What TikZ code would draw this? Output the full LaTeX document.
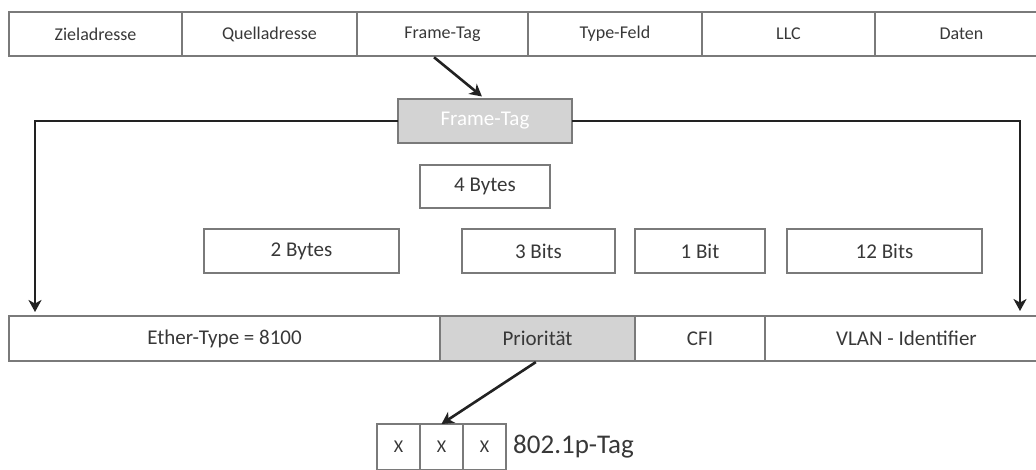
\documentclass[tikz,border=0pt]{standalone}
\usepackage{fontspec}
\setmainfont{Carlito}
\usepackage{xcolor}
\usetikzlibrary{positioning, arrows.meta}
\definecolor{rahmen}{HTML}{7A7A7A}
\definecolor{feldgrau}{HTML}{D3D3D3}
\definecolor{schrift}{HTML}{383838}
\definecolor{pfeil}{HTML}{222222}
\tikzset{
  field/.style={
    draw=rahmen, line width=1.6pt, rectangle,
    inner sep=0pt, outer sep=0pt,
    minimum height=44pt,
    text=schrift, font=\fontsize{21}{24}\selectfont
  },
  topfield/.style={field, font=\fontsize{18}{21}\selectfont},
  greyfield/.style={field, fill=feldgrau},
  bitbox/.style={field, minimum width=43pt, minimum height=46pt,
    font=\fontsize{18}{21}\selectfont},
  arr/.style={draw=pfeil, line width=2.6pt,
    -{Stealth[length=12pt, width=13pt, inset=3.5pt]}},
}

\begin{document}
\begin{tikzpicture}[x=1pt, y=-1pt]
\useasboundingbox (0,0) rectangle (1036,469);

% Ethernet-Rahmen
\node[topfield, minimum width=173pt] (ziel) at (95.5,34) {Zieladresse};
\node[topfield, minimum width=175pt] (quell) at (269.5,34) {Quelladresse};
\node[topfield, minimum width=171pt] (ftag) at (442.5,34) {Frame-Tag};
\node[topfield, minimum width=174pt] (typ) at (615,34) {Type-Feld};
\node[topfield, minimum width=173pt] (llc) at (788.5,34) {LLC};
\node[topfield, minimum width=173pt] (daten) at (961.5,34) {Daten};

% Frame-Tag
\node[greyfield, minimum width=174pt, text=white] (fbox) at (485,121) {Frame-Tag};
\node[field, minimum width=130pt, minimum height=43pt] (vier) at (485,186.5) {4 Bytes};

% Groessen
\node[field, minimum width=195pt] (zwei) at (301.5,251) {2 Bytes};
\node[field, minimum width=153pt] (drei) at (538.5,251) {3 Bits};
\node[field, minimum width=130pt] (eins) at (700,251) {1 Bit};
\node[field, minimum width=195pt] (zwoelf) at (884.5,251) {12 Bits};

% Tag-Felder
\node[field, minimum width=431pt, minimum height=45pt] (ether) at (224.5,338.5) {Ether-Type = 8100};
\node[greyfield, minimum width=195pt, minimum height=45pt] (prio) at (537.5,338.5) {Priorität};
\node[field, minimum width=130pt, minimum height=45pt] (cfi) at (700,338.5) {CFI};
\node[field, minimum width=283pt, minimum height=45pt] (vlan) at (906.5,338.5) {VLAN - Identifier};

% 802.1p
\node[bitbox] (xa) at (398.5,447) {X};
\node[bitbox] (xb) at (441.5,447) {X};
\node[bitbox] (xc) at (484.5,447) {X};
\node[anchor=west, inner sep=0pt, text=schrift, font=\fontsize{27}{30}\selectfont] (ptag) at (513,447) {802.1p-Tag};

\coordinate (links) at (35,316);
\coordinate (rechts) at (1020,316);

\draw[arr, shorten <=2pt, shorten >=4pt] ([xshift=-10pt]ftag.south) -- (fbox.north);
\draw[arr, shorten >=4pt] (fbox.west) -| (links);
\draw[arr, shorten >=5pt] (fbox.east) -| (rechts);
\draw[arr, shorten <=2pt] (prio.south) -- (xb.north);

\end{tikzpicture}
\end{document}
